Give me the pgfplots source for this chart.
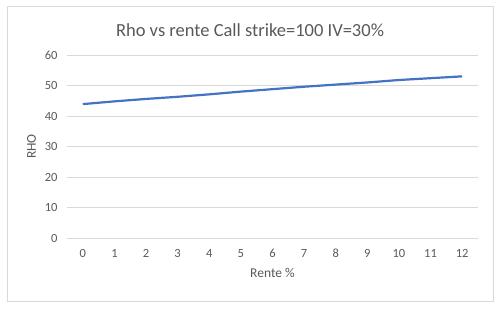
\documentclass[border=0pt]{standalone}
\usepackage{fontspec}
\setmainfont{Carlito}
\usepackage{pgfplots}
\pgfplotsset{compat=1.18}
\definecolor{txt}{HTML}{595959}
\definecolor{grd}{HTML}{D9D9D9}
\definecolor{ln}{HTML}{4472C4}
\begin{document}
\begin{tikzpicture}[x=1pt,y=1pt]
\useasboundingbox (0,0) rectangle (500,308);
\draw[grd, line width=0.8pt] (7,7) rectangle (493,302);
\node[txt, font=\fontsize{18.5}{21}\selectfont] at (250,278) {Rho vs rente Call strike=100 IV=30\%};
\begin{axis}[
  at={(67pt,70pt)}, anchor=south west,
  scale only axis, width=411pt, height=183pt,
  xmin=-0.5, xmax=12.5, ymin=0, ymax=60,
  xtick={0,1,...,12}, ytick={0,10,...,60},
  ymajorgrids, grid style={grd, line width=0.8pt},
  axis line style={draw=none}, major tick length=0pt,
  tick label style={txt, font=\fontsize{12.5}{14}\selectfont},
  /pgf/number format/assume math mode=true,
  yticklabel style={xshift=-6pt},
  xticklabel style={anchor=base, yshift=-19pt},
  xlabel={Rente \%}, ylabel={RHO},
  label style={txt, font=\fontsize{13.5}{15}\selectfont},
  xlabel style={yshift=-4pt},
  ylabel style={yshift=2pt},
  clip=false,
]
\addplot[ln, line width=2.2pt] coordinates {
(0,43.9) (1,44.8) (2,45.6) (3,46.3) (4,47.1) (5,48.0) (6,48.8)
(7,49.6) (8,50.3) (9,51.0) (10,51.8) (11,52.4) (12,53.0)
};
\end{axis}
\end{tikzpicture}
\end{document}
